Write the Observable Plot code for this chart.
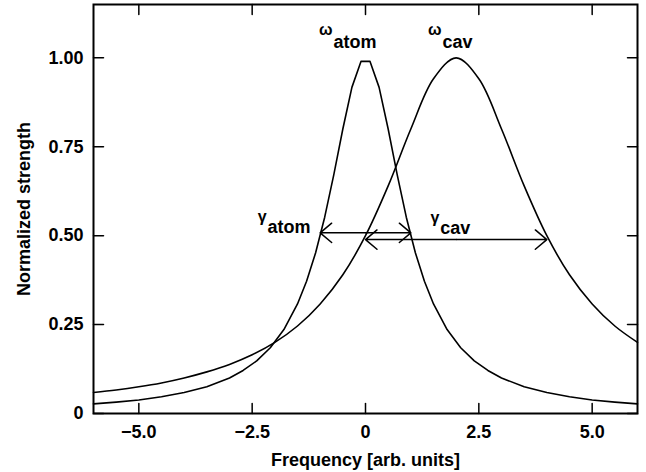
<!DOCTYPE html>
<html><head><meta charset="utf-8">
<script src="https://cdn.jsdelivr.net/npm/d3@7"></script>
<script src="https://cdn.jsdelivr.net/npm/@observablehq/plot@0.6"></script>
<style>html,body{margin:0;padding:0;background:#fff}</style>
</head><body><div id="chart"></div>
<script>
// Atom line (narrow Lorentzian)
const atomFreq = [-6,-5.5,-5,-4.5,-4,-3.5,-3,-2.7,-2.4,-2.1,-1.8,-1.5,-1.3,-1.1,-0.9,-0.7,-0.5,-0.3,-0.1,0.1,0.3,0.5,0.7,0.9,1.1,1.3,1.5,1.8,2.1,2.4,2.7,3,3.5,4,4.5,5,5.5,6];
const atomStrength = [0.027,0.032,0.038,0.047,0.059,0.075,0.100,0.121,0.148,0.185,0.236,0.308,0.372,0.452,0.552,0.671,0.800,0.917,0.990,0.990,0.917,0.800,0.671,0.552,0.452,0.372,0.308,0.236,0.185,0.148,0.121,0.100,0.075,0.059,0.047,0.038,0.032,0.027];
// Cavity line (broad Lorentzian)
const cavFreq = [-6,-5.5,-5,-4.5,-4,-3.5,-3,-2.5,-2,-1.5,-1,-0.5,0,0.5,1,1.5,2,2.5,3,3.5,4,4.5,5,5.5,6];
const cavStrength = [0.059,0.066,0.075,0.086,0.100,0.117,0.138,0.165,0.200,0.246,0.308,0.390,0.500,0.640,0.800,0.941,1.000,0.941,0.800,0.640,0.500,0.390,0.308,0.246,0.200];

const xTickValues = [-5, -2.5, 0, 2.5, 5];
const xTickLabels = ["\u22125.0", "\u22122.5", "0", "2.5", "5.0"];
const yTickValues = [0, 0.25, 0.5, 0.75, 1];
const yTickLabels = ["0", "0.25", "0.50", "0.75", "1.00"];

// Linewidth arrows (FWHM)
const widthNames = ["atom", "cav"];
const widthFrom = [-1, 0];
const widthTo = [1, 4];
const widthLevel = [0.508, 0.489];

// Annotations
const labelSymbols = ["\u03c9", "\u03c9", "\u03b3", "\u03b3"];
const labelSubs = ["atom", "cav", "atom", "cav"];
const labelFreq = [-0.706, 1.70, -2.16, 1.65];
const labelLevel = [1.043, 1.043, 0.523, 0.520];

const arrowRows = widthNames.flatMap((n, i) => {
  const mid = (widthFrom[i] + widthTo[i]) / 2;
  return [
    {x1: mid, x2: widthFrom[i], y: widthLevel[i]},
    {x1: mid, x2: widthTo[i], y: widthLevel[i]}
  ];
});
const labelRows = labelSubs.map((s, i) => ({sym: labelSymbols[i], sub: s, x: labelFreq[i], y: labelLevel[i]}));

const tickShape = {draw(ctx, l) { ctx.moveTo(0, 0); ctx.lineTo(0, -l); }};
const tickLen = 10;

const chart = Plot.plot({
  width: 646,
  height: 472,
  marginLeft: 93,
  marginRight: 9,
  marginTop: 4,
  marginBottom: 59,
  style: {fontFamily: "'Liberation Sans', Arial, sans-serif", fontSize: "18px", fontWeight: "bold", background: "#fff", color: "#000"},
  x: {domain: [-6, 6], ticks: xTickValues, tickFormat: d => xTickLabels[xTickValues.indexOf(d)], tickSize: 0, tickPadding: 12,
      label: "Frequency [arb. units]", labelAnchor: "center", labelOffset: 52, labelArrow: "none"},
  y: {domain: [0, 1.15], ticks: yTickValues, tickFormat: d => yTickLabels[yTickValues.indexOf(d)], tickSize: 0, tickPadding: 10,
      label: "Normalized strength", labelAnchor: "center", labelOffset: 76, labelArrow: "none"},
  marks: [
    Plot.line(atomFreq, {x: atomFreq, y: atomStrength, stroke: "#000", strokeWidth: 1.6, curve: "linear"}),
    Plot.line(cavFreq, {x: cavFreq, y: cavStrength, stroke: "#000", strokeWidth: 1.6, curve: "catmull-rom"}),
    Plot.arrow(arrowRows, {x1: "x1", x2: "x2", y1: "y", y2: "y", stroke: "#000", strokeWidth: 1.5, headLength: 15, headAngle: 80}),
    Plot.text(labelRows, {x: "x", y: "y", text: "sub", textAnchor: "start", fill: "#000"}),
    Plot.text(labelRows.slice(0, 2), {x: "x", y: "y", text: "sym", textAnchor: "end", dx: -1, dy: -13, fontSize: 16, fill: "#000"}),
    Plot.text(labelRows.slice(2), {x: "x", y: "y", text: "sym", textAnchor: "end", dx: -1, dy: -11, fontSize: 16, fill: "#000"}),
    // inward ticks on all four sides
    Plot.vector(xTickValues, {x: d => d, frameAnchor: "bottom", length: tickLen, rotate: 0, anchor: "start", shape: tickShape, stroke: "#000", strokeWidth: 1.5}),
    Plot.vector(xTickValues, {x: d => d, frameAnchor: "top", length: tickLen, rotate: 180, anchor: "start", shape: tickShape, stroke: "#000", strokeWidth: 1.5}),
    Plot.vector(yTickValues, {y: d => d, frameAnchor: "left", length: tickLen, rotate: 90, anchor: "start", shape: tickShape, stroke: "#000", strokeWidth: 1.5}),
    Plot.vector(yTickValues, {y: d => d, frameAnchor: "right", length: tickLen, rotate: -90, anchor: "start", shape: tickShape, stroke: "#000", strokeWidth: 1.5}),
    Plot.frame({stroke: "#000", strokeWidth: 2})
  ]
});
document.getElementById("chart").appendChild(chart);
</script>
</body></html>
